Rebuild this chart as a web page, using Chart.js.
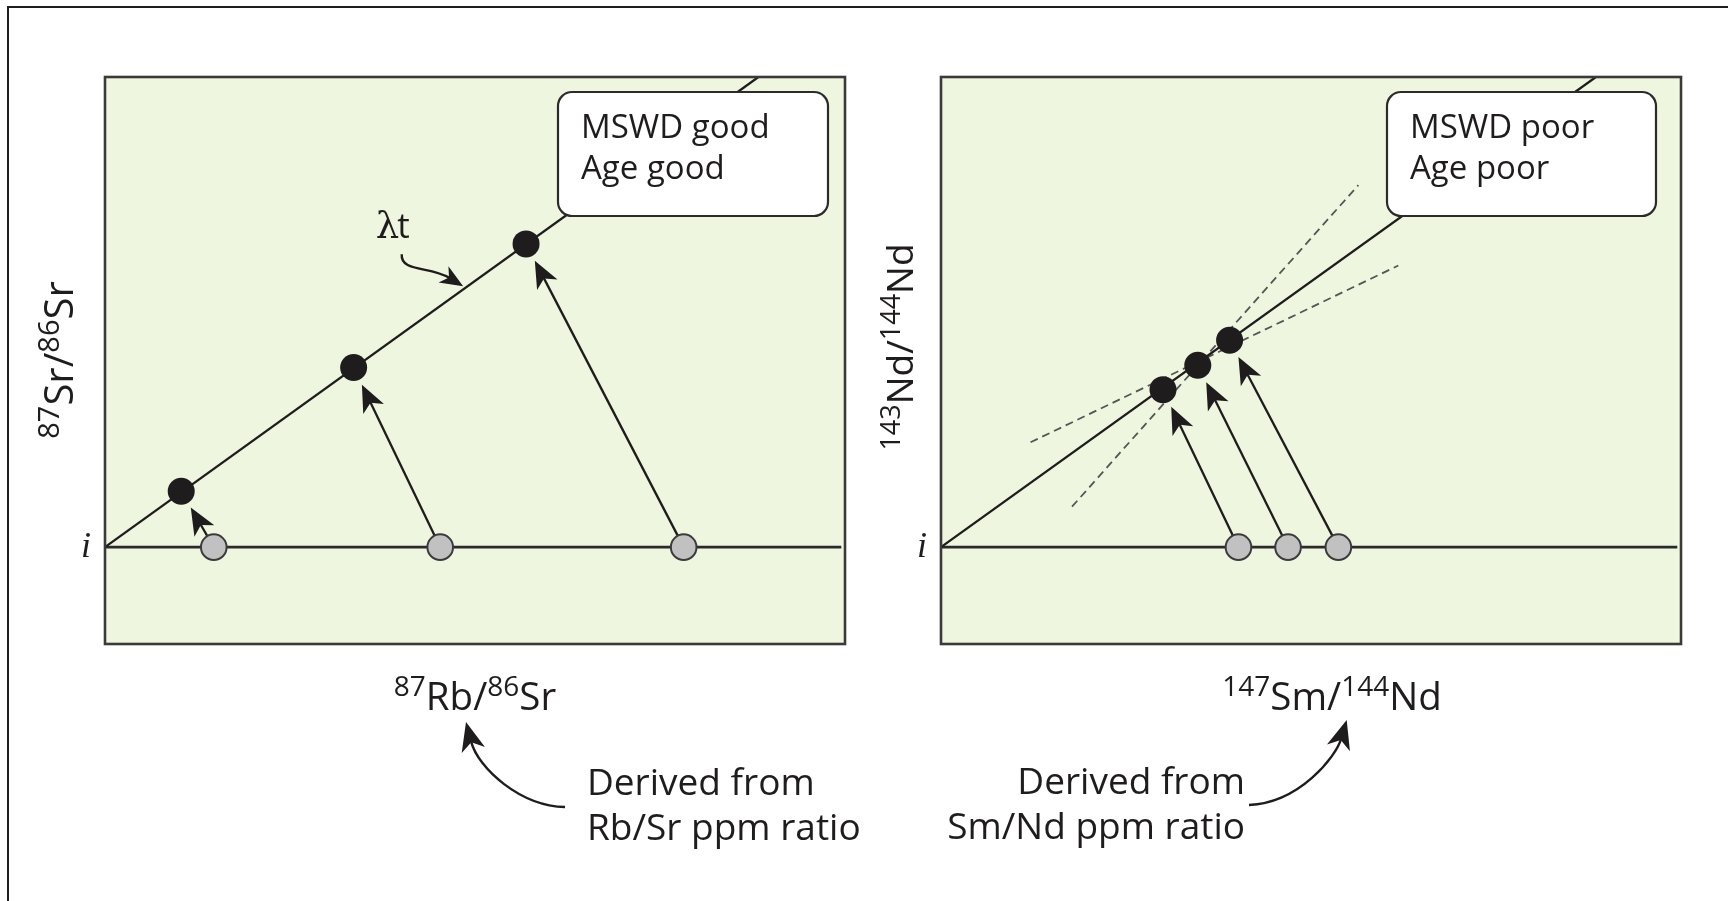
<!DOCTYPE html>
<html>
<head>
<meta charset="utf-8">
<title>Rb-Sr and Sm-Nd isochrons</title>
<script src="https://cdn.jsdelivr.net/npm/chart.js@4"></script>
<style>
  html, body { margin: 0; padding: 0; background: #fff; overflow: hidden; }
  #page { position: relative; width: 1728px; height: 901px; overflow: hidden; }
  #frame { position: absolute; left: 7px; top: 6px; width: 1780px; height: 980px; border: 2px solid #1e1e1e; }
  canvas { position: absolute; left: 0; top: 0; }
</style>
</head>
<body>
<div id="page">
  <div id="frame"></div>
  <canvas id="rbsr" width="1728" height="901"></canvas>
  <canvas id="smnd" width="1728" height="901"></canvas>
</div>
<script>
const INK = '#1f1c1d';
const FONT = '"Open Sans", "Noto Sans", sans-serif';

// axis units: x = parent/daughter ratio, y = 0 at the initial ratio "i"
const xRange = [0, 10];
const yRange = [-2.06, 10];
const initialRatio = 0;
const baselineEnd = 9.95;
const yTickValues = [0];
const yTickLabels = ['i'];

// Rb-Sr panel
const rbsrSampleX = [1.47, 4.53, 7.82];     // grey: at formation
const rbsrNowX = [1.03, 3.36, 5.69];        // black: today
const rbsrNowY = [1.19, 3.82, 6.45];
const rbsrLineEnd = [8.83, 10];

// Sm-Nd panel
const smndSampleX = [4.02, 4.69, 5.37];
const smndNowX = [3.00, 3.47, 3.90];
const smndNowY = [3.35, 3.87, 4.40];
const smndLineEnd = [8.85, 10];
const smndSteepX = [1.77, 5.64];
const smndSteepY = [0.86, 7.70];
const smndShallowX = [1.21, 6.18];
const smndShallowY = [2.23, 5.99];

// texts ([text, superscript?])
const rbsrXTitle = [['87', true], ['Rb/', false], ['86', true], ['Sr', false]];
const rbsrYTitle = [['87', true], ['Sr/', false], ['86', true], ['Sr', false]];
const smndXTitle = [['147', true], ['Sm/', false], ['144', true], ['Nd', false]];
const smndYTitle = [['143', true], ['Nd/', false], ['144', true], ['Nd', false]];
const rbsrBox = ['MSWD good', 'Age good'];
const smndBox = ['MSWD poor', 'Age poor'];
const rbsrNote = ['Derived from', 'Rb/Sr ppm ratio'];
const smndNote = ['Derived from', 'Sm/Nd ppm ratio'];

function arrowHead(ctx, tx, ty, ux, uy, len, half, notch) {
  const nx = -uy, ny = ux;
  ctx.beginPath();
  ctx.moveTo(tx, ty);
  ctx.lineTo(tx - ux * len + nx * half, ty - uy * len + ny * half);
  ctx.lineTo(tx - ux * (len - notch), ty - uy * (len - notch));
  ctx.lineTo(tx - ux * len - nx * half, ty - uy * len - ny * half);
  ctx.closePath();
  ctx.fill();
}

function straightArrow(ctx, x0, y0, tx, ty) {
  const d = Math.hypot(tx - x0, ty - y0);
  const ux = (tx - x0) / d, uy = (ty - y0) / d;
  ctx.beginPath();
  ctx.moveTo(x0, y0);
  ctx.lineTo(tx - ux * 19, ty - uy * 19);
  ctx.stroke();
  arrowHead(ctx, tx, ty, ux, uy, 27, 11.5, 7);
}

function curvedArrow(ctx, p0, c1, c2, tip, len, half) {
  const dx = tip[0] - c2[0], dy = tip[1] - c2[1];
  const d = Math.hypot(dx, dy), ux = dx / d, uy = dy / d;
  ctx.beginPath();
  ctx.moveTo(p0[0], p0[1]);
  ctx.bezierCurveTo(c1[0], c1[1], c2[0], c2[1], tip[0] - ux * len * 0.7, tip[1] - uy * len * 0.7);
  ctx.stroke();
  arrowHead(ctx, tip[0], tip[1], ux, uy, len, half, len * 0.28);
}

function richText(ctx, parts, x, y, size, align) {
  const sup = Math.round(size * 0.72);
  const widths = parts.map(([t, s]) => {
    ctx.font = `${s ? sup : size}px ${FONT}`;
    return ctx.measureText(t).width;
  });
  const total = widths.reduce((a, b) => a + b, 0);
  let cx = align === 'center' ? x - total / 2 : align === 'right' ? x - total : x;
  ctx.textAlign = 'left';
  ctx.textBaseline = 'alphabetic';
  parts.forEach(([t, s], i) => {
    ctx.font = `${s ? sup : size}px ${FONT}`;
    ctx.fillText(t, cx, s ? y - size * 0.36 : y);
    cx += widths[i];
  });
}

function roundBox(ctx, x, y, w, h, r) {
  ctx.beginPath();
  ctx.moveTo(x + r, y);
  ctx.arcTo(x + w, y, x + w, y + h, r);
  ctx.arcTo(x + w, y + h, x, y + h, r);
  ctx.arcTo(x, y + h, x, y, r);
  ctx.arcTo(x, y, x + w, y, r);
  ctx.closePath();
}

function panelPlugin(cfg) {
  return {
    id: 'panel_' + cfg.key,
    beforeDraw(chart) {
      const { ctx, chartArea: a } = chart;
      ctx.save();
      ctx.fillStyle = '#eef6df';
      ctx.fillRect(a.left, a.top, a.right - a.left, a.bottom - a.top);
      ctx.restore();
    },
    beforeDatasetDraw(chart, args) {
      if (args.index !== 1) return;
      const { ctx, scales: { x, y } } = chart;
      ctx.save();
      ctx.strokeStyle = INK;
      ctx.fillStyle = INK;
      ctx.lineWidth = 2.3;
      cfg.sampleX.forEach((sx, i) => {
        const gx = x.getPixelForValue(sx), gy = y.getPixelForValue(initialRatio);
        const bx = x.getPixelForValue(cfg.nowX[i]), by = y.getPixelForValue(cfg.nowY[i]);
        const d = Math.hypot(bx - gx, by - gy);
        straightArrow(ctx, gx, gy, bx - (bx - gx) / d * 19, by - (by - gy) / d * 19);
      });
      ctx.restore();
    },
    afterDatasetsDraw(chart) {
      const { ctx, chartArea: a, scales: { x, y } } = chart;
      ctx.save();
      // result box
      const b = cfg.box;
      roundBox(ctx, b.left, b.top, b.w, b.h, 14);
      ctx.fillStyle = '#fff';
      ctx.fill();
      ctx.strokeStyle = '#2b2b2b';
      ctx.lineWidth = 2.2;
      ctx.stroke();
      ctx.fillStyle = INK;
      ctx.font = `33px ${FONT}`;
      ctx.textAlign = 'left';
      ctx.textBaseline = 'alphabetic';
      ctx.fillText(cfg.boxText[0], b.left + 23, b.top + 46);
      ctx.fillText(cfg.boxText[1], b.left + 23, b.top + 87);

      // lambda-t label on the isochron
      if (cfg.lambda) {
        const px = (v) => [x.getPixelForValue(v[0]), y.getPixelForValue(v[1])];
        const l = cfg.lambda;
        const p = px(l.label);
        ctx.font = '37px "DejaVu Serif", serif';
        ctx.fillText('λ', p[0], p[1]);
        const lw = ctx.measureText('λ').width;
        ctx.font = `35px ${FONT}`;
        ctx.fillText('t', p[0] + lw - 2, p[1]);
        ctx.strokeStyle = INK;
        ctx.lineWidth = 2.4;
        curvedArrow(ctx, px(l.start), px(l.c1), px(l.c2), px(l.tip), 23, 9.5);
      }

      // plot frame
      ctx.strokeStyle = '#3a3a3a';
      ctx.lineWidth = 2.6;
      ctx.strokeRect(a.left, a.top, a.right - a.left, a.bottom - a.top);
      ctx.restore();
    },
    afterDraw(chart) {
      const { ctx, chartArea: a, scales: { y } } = chart;
      ctx.save();
      ctx.fillStyle = INK;
      // "i" tick label
      ctx.font = 'italic 36px "Liberation Serif", serif';
      ctx.textAlign = 'right';
      ctx.textBaseline = 'alphabetic';
      yTickValues.forEach((v, i) => ctx.fillText(yTickLabels[i], a.left - 14, y.getPixelForValue(v) + 10));
      // axis titles
      richText(ctx, cfg.xTitle, cfg.xTitlePos[0], cfg.xTitlePos[1], 38.5, 'center');
      ctx.save();
      ctx.translate(cfg.yTitlePos[0], cfg.yTitlePos[1]);
      ctx.rotate(-Math.PI / 2);
      richText(ctx, cfg.yTitle, 0, 0, cfg.yTitleSize, 'center');
      ctx.restore();
      // note and its curved arrow
      ctx.font = `37px ${FONT}`;
      ctx.textAlign = cfg.note.align;
      ctx.fillText(cfg.noteText[0], cfg.note.x, cfg.note.y);
      ctx.fillText(cfg.noteText[1], cfg.note.x, cfg.note.y + 45);
      ctx.strokeStyle = INK;
      ctx.lineWidth = 2.4;
      const c = cfg.curve;
      curvedArrow(ctx, c[0], c[1], c[2], c[3], 29, 12);
      ctx.restore();
    }
  };
}

function lineSet(xs, ys, extra) {
  return Object.assign({
    data: xs.map((v, i) => ({ x: v, y: ys[i] })),
    showLine: true,
    pointRadius: 0,
    borderColor: INK,
    borderWidth: 2.3,
    fill: false
  }, extra || {});
}

function makePanel(id, cfg) {
  const datasets = [
    {
      data: cfg.nowX.map((v, i) => ({ x: v, y: cfg.nowY[i] })),
      pointRadius: 13.5,
      pointBackgroundColor: INK,
      pointBorderColor: INK,
      pointBorderWidth: 0,
      clip: false
    },
    {
      data: cfg.sampleX.map(v => ({ x: v, y: initialRatio })),
      pointRadius: 12.8,
      pointBackgroundColor: '#c1c1c1',
      pointBorderColor: '#3b3b3b',
      pointBorderWidth: 2,
      clip: false
    },
    lineSet([0, cfg.lineEnd[0]], [initialRatio, cfg.lineEnd[1]]),
    lineSet([0, baselineEnd], [initialRatio, initialRatio], { borderWidth: 2.7, borderColor: '#2a2a2a' })
  ].concat(cfg.extra || []);

  return new Chart(document.getElementById(id), {
    type: 'scatter',
    data: { datasets },
    options: {
      responsive: false,
      animation: false,
      devicePixelRatio: 1,
      events: [],
      layout: { padding: cfg.padding },
      plugins: { legend: { display: false }, tooltip: { enabled: false } },
      scales: {
        x: { type: 'linear', min: xRange[0], max: xRange[1], display: false },
        y: { type: 'linear', min: yRange[0], max: yRange[1], display: false }
      }
    },
    plugins: [panelPlugin(cfg)]
  });
}

const rbsrCfg = {
  key: 'rbsr',
  sampleX: rbsrSampleX, nowX: rbsrNowX, nowY: rbsrNowY, lineEnd: rbsrLineEnd,
  padding: { left: 105, top: 77, right: 883, bottom: 257 },
  box: { left: 558, top: 92, w: 270, h: 124 },
  boxText: rbsrBox,
  lambda: { label: [3.66, 6.58], start: [4.01, 6.23], c1: [3.99, 5.85], c2: [4.39, 5.98], tip: [4.84, 5.55] },
  xTitle: rbsrXTitle, xTitlePos: [475, 710],
  yTitle: rbsrYTitle, yTitlePos: [73, 360], yTitleSize: 40,
  noteText: rbsrNote, note: { x: 587, y: 795, align: 'left' },
  curve: [[565, 807], [520, 806], [478, 768], [466, 722]]
};

const smndCfg = {
  key: 'smnd',
  sampleX: smndSampleX, nowX: smndNowX, nowY: smndNowY, lineEnd: smndLineEnd,
  padding: { left: 941, top: 77, right: 47, bottom: 257 },
  box: { left: 1387, top: 92, w: 269, h: 124 },
  boxText: smndBox,
  xTitle: smndXTitle, xTitlePos: [1332, 710],
  yTitle: smndYTitle, yTitlePos: [913, 347], yTitleSize: 37,
  noteText: smndNote, note: { x: 1245, y: 794, align: 'right' },
  curve: [[1249, 805], [1300, 803], [1336, 756], [1346.7, 720]],
  extra: [
    lineSet(smndSteepX, smndSteepY, { borderColor: '#555', borderWidth: 1.8, borderDash: [8, 5] }),
    lineSet(smndShallowX, smndShallowY, { borderColor: '#555', borderWidth: 1.8, borderDash: [8, 5] })
  ]
};

makePanel('rbsr', rbsrCfg);
makePanel('smnd', smndCfg);
</script>
</body>
</html>
